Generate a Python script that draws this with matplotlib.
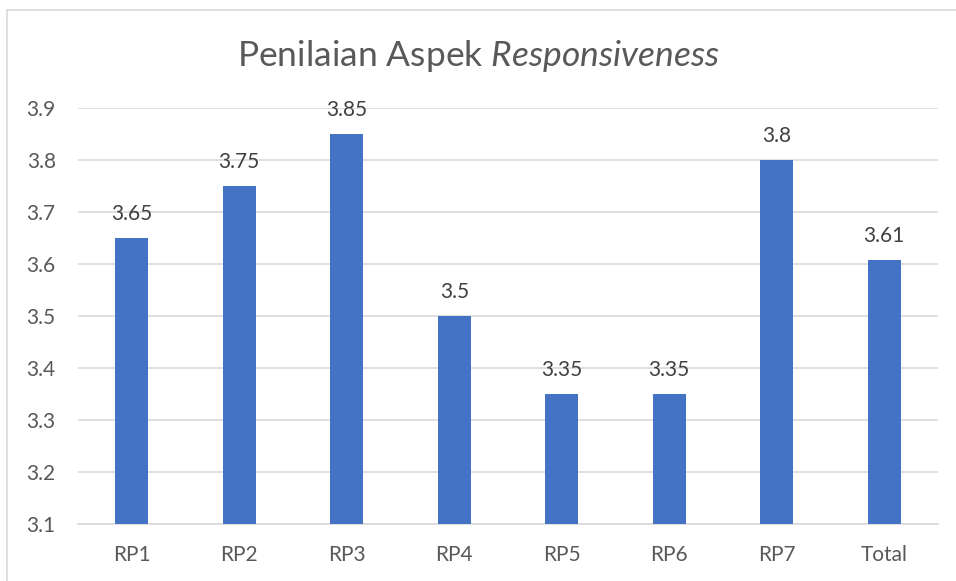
import matplotlib.pyplot as plt
from matplotlib.patches import Rectangle

categories = ["RP1", "RP2", "RP3", "RP4", "RP5", "RP6", "RP7", "Total"]
scores = [3.65, 3.75, 3.85, 3.5, 3.35, 3.35, 3.8, 3.607]
labels = ["3.65", "3.75", "3.85", "3.5", "3.35", "3.35", "3.8", "3.61"]
yticks = [3.1, 3.2, 3.3, 3.4, 3.5, 3.6, 3.7, 3.8, 3.9]

plt.rcParams["font.family"] = ["Lato", "DejaVu Sans"]
plt.rcParams["mathtext.fontset"] = "custom"
plt.rcParams["mathtext.rm"] = "Lato"
plt.rcParams["mathtext.it"] = "Lato:italic"
text_color = "#595959"
bar_color = "#4472C4"
grid_color = "#D9D9D9"

fig = plt.figure(figsize=(9.56, 5.81), dpi=100)
fig.patches.append(Rectangle((7 / 956, -0.01), 1.2, 1 - 10 / 581 + 0.01,
                             transform=fig.transFigure, fill=False,
                             edgecolor="#D9D9D9", linewidth=1.2))

ax = fig.add_axes([78 / 956, 1 - 524 / 581, 860 / 956, 416 / 581])
x = range(len(categories))
bars = ax.bar(x, [s - 3.1 for s in scores], bottom=3.1, width=0.31,
              color=bar_color, zorder=3)

for i, (s, lab) in enumerate(zip(scores, labels)):
    ax.annotate(lab, (i, s), xytext=(0, 10), textcoords="offset points",
                ha="center", va="bottom", fontsize=15, color="#404040")

ax.set_xlim(-0.5, len(categories) - 0.5)
ax.set_ylim(3.1, 3.9)
ax.set_yticks(yticks)
ax.set_yticklabels([f"{t:.1f}" for t in yticks])
ax.set_xticks(list(x))
ax.set_xticklabels(categories)
ax.tick_params(axis="both", length=0, labelsize=15, colors=text_color)
ax.tick_params(axis="y", pad=16)
ax.tick_params(axis="x", pad=15)
ax.yaxis.grid(True, color=grid_color, linewidth=1.2, zorder=0)
for side in ["top", "right", "left"]:
    ax.spines[side].set_visible(False)
ax.spines["bottom"].set_color(grid_color)
ax.spines["bottom"].set_linewidth(1.2)

fig.text(0.5, 1 - 56 / 581, "Penilaian Aspek $\\it{Responsiveness}$",
         ha="center", va="center", fontsize=25.5, color=text_color)

fig.savefig("out.png", dpi=100)
